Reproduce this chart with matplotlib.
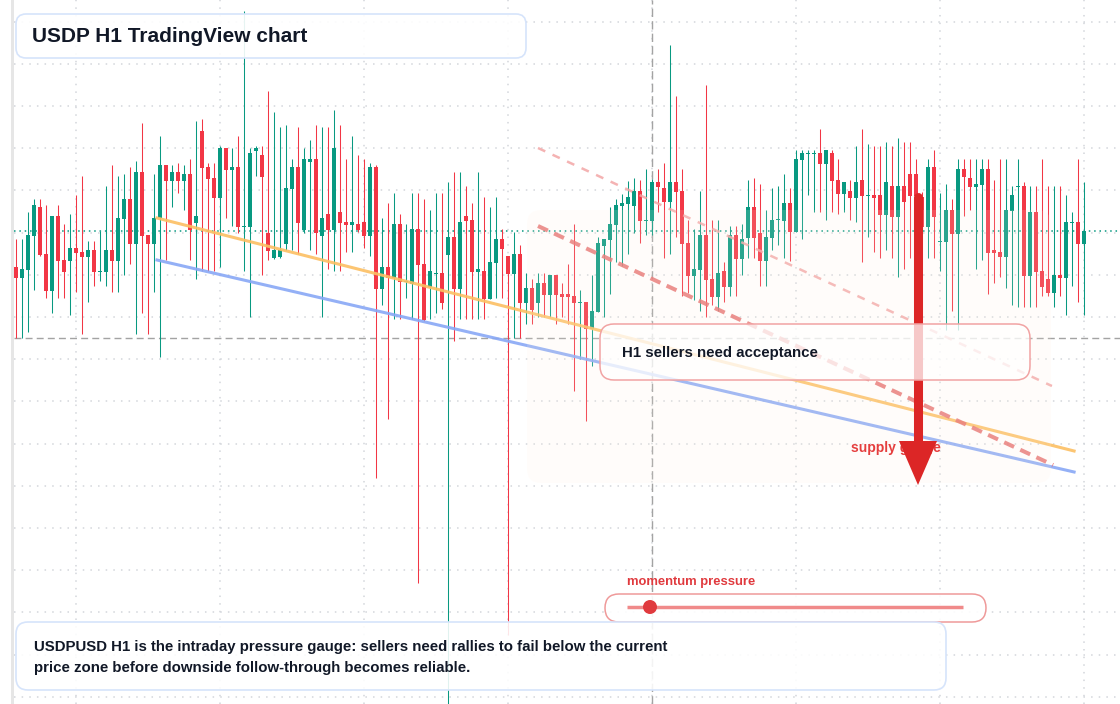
import numpy as np
import matplotlib
matplotlib.use('Agg')
import matplotlib.pyplot as plt
from matplotlib.patches import FancyBboxPatch, Polygon, Circle, Rectangle

plt.rcParams['font.family'] = ['Liberation Sans', 'DejaVu Sans']

# hourly candles, price points
opens = [437, 426.3, 434.3, 468.3, 497, 450, 413.3, 488, 444, 443.3,
         456, 452, 447.3, 454, 432.3, 432.3, 454, 443.3, 485.3, 505,
         460.3, 532, 469, 460.3, 486, 539, 523.3, 532, 523.3, 530,
         481.3, 573, 537, 526, 506.3, 556, 534, 537, 477.3, 477.3,
         553, 549, 471.3, 446, 447.3, 460.3, 515.3, 537, 474.3, 542.3,
         545, 468.3, 490, 474.3, 492, 482, 479, 480, 482, 468.3,
         537, 415.3, 437.3, 426.3, 480, 422.3, 420.3, 475.3, 440.3, 417.3,
         430.3, 431, 449.3, 467.3, 415.3, 488, 484, 432.3, 433, 405.3,
         441.3, 465, 448.3, 430.3, 450, 401.3, 416.3, 401.3, 421.3, 409.3,
         429.3, 410.3, 410.3, 408.3, 401.3, 402.3, 375.3, 392.3, 458.3, 464.3,
         479.3, 498.3, 500.3, 498.3, 513, 483.3, 483.3, 522, 516, 502.3,
         522, 513, 461, 428.3, 434.3, 469, 425.3, 407.3, 433, 417.3,
         469, 445.3, 466.3, 497, 471.3, 443.3, 466.3, 483.7, 483.3, 501,
         472.3, 544, 550.3, 550.3, 551, 540, 551, 524, 510, 513,
         506, 524, 508.3, 509, 509, 489, 518, 487, 518, 530,
         530, 507.3, 477.3, 537, 462, 462.3, 494, 470.3, 535, 526,
         517.3, 519.3, 535, 454, 452, 447.3, 493.3, 517.3, 518, 428.3,
         492, 433, 425, 411.3, 429.3, 426.3, 481.3, 482, 460.3]
highs = [465, 465, 492, 505, 505, 499, 488, 499, 480, 490,
         509, 528, 463, 463, 473, 518, 539, 528, 530, 537,
         543, 581, 469, 530, 568, 539, 539, 541, 539, 545,
         583, 585, 541, 541, 558, 556, 556, 568, 693, 556,
         558, 558, 613, 592, 577, 579, 545, 577, 556, 564,
         579, 577, 577, 594, 579, 545, 568, 549, 545, 541,
         539, 486, 501, 511, 490, 480, 511, 511, 505, 494,
         511, 511, 522, 532, 532, 518, 501, 532, 507, 497,
         507, 475.3, 448.3, 472.3, 459.3, 431.3, 425.3, 431.3, 431.3, 429.3,
         429.3, 421.3, 440.3, 480, 414.3, 402.3, 429.3, 467.3, 465.3, 497,
         505, 510, 523, 526, 524, 535, 525, 535, 541, 659,
         608, 535, 484, 475.3, 513, 619, 484, 484, 442, 478.3,
         478.3, 480, 524, 526, 520, 494, 516, 518, 530, 516,
         554, 554, 554, 554, 575, 554, 554, 545, 522, 524,
         558, 575, 560, 558, 558, 562, 558, 566, 562, 562,
         545, 512, 545, 554, 511, 520, 505, 545, 545, 545,
         545, 545, 545, 524, 545, 545, 518, 545, 522, 518,
         518, 545, 518, 518, 518, 509, 492, 545, 522]
lows = [365.7, 366.3, 372.3, 414, 448.3, 406.3, 391.3, 406.3, 406.3, 389.3,
        412, 370.3, 402.3, 418.3, 423.3, 418.3, 412.3, 412.3, 429.3, 440.3,
        370.3, 391.3, 370.3, 412.3, 347, 444, 497, 511.3, 494, 444,
        425.3, 433.3, 433.3, 433.3, 437.3, 486, 478, 471.3, 433.3, 387,
        528, 429.3, 444.3, 445, 446.3, 454.3, 454.3, 450.3, 471.3, 454.3,
        450.3, 387.3, 435.3, 433.3, 433.3, 452.3, 452.3, 472.3, 456.3, 448.3,
        226.3, 399.3, 285, 385.3, 385.3, 406.3, 385.3, 121, 383, 385.3,
        391.3, 395.3, -5, 363.3, 385.3, 385.3, 385.3, 385.3, 385.3, 405.3,
        406.3, 406.3, 69, 366.3, 366.3, 380.3, 380.3, 387.3, 387.3, 387.3,
        380.3, 387.3, 380.3, 313, 345, 283, 338, 392.3, 387.3, 410.3,
        442.3, 438.3, 450.3, 471.3, 461.3, 469.3, 469.3, 492.3, 446.3, 450.3,
        467.3, 408.3, 411.3, 404.3, 393.3, 387.3, 399.3, 393.3, 402.3, 408.3,
        408.3, 429.3, 446.3, 446.3, 418.3, 418.3, 454.3, 459.3, 446.3, 443.3,
        472.3, 465.3, 509, 492, 492, 484, 492, 490, 492, 484,
        482, 442.3, 467.3, 452.3, 446.3, 454.3, 446.3, 427.3, 435.3, 446.3,
        474, 470, 446.3, 446.3, 433.3, 374, 393.3, 374, 488.3, 494.3,
        435.3, 444.3, 410.3, 421.3, 427.3, 416.3, 399.3, 397.3, 397.3, 397.3,
        397.3, 408.3, 408.3, 397.3, 408.3, 389.3, 418.3, 402.3, 389.3]
closes = [426.3, 435, 469, 499, 449, 413.3, 488, 443.3, 432.3, 456,
          451.3, 447.3, 454, 432.3, 433, 454, 443.3, 486, 505, 460.3,
          532, 468.3, 460.3, 486, 539, 523.3, 532, 523.3, 530, 474.3,
          488, 536.3, 525.3, 506.3, 556, 534, 537, 477.3, 478, 551,
          556, 527.3, 453.3, 454, 454, 516, 537, 481.3, 545, 545,
          471.3, 486, 474.3, 556, 481.3, 479, 482, 474.3, 468.3, 537,
          415.3, 437.3, 426.3, 480, 422.3, 423, 475.3, 439.3, 384.3, 433,
          431, 401.3, 467.3, 415.3, 482, 483.3, 432.3, 435, 405.3, 442,
          465, 455.3, 430.3, 450, 401.3, 416.3, 394.3, 421.3, 409.3, 429.3,
          409.3, 407.3, 407.3, 401.3, 402.3, 375.3, 393.3, 460.7, 465.3, 480,
          499, 501, 507, 513, 483.3, 484.3, 522, 517.3, 502.3, 522,
          512.3, 460.3, 428.3, 435, 469, 424.3, 407.3, 431, 417.3, 469,
          445.3, 465.3, 497, 466.3, 443.3, 467.3, 484, 484.3, 501, 472.3,
          545, 551, 551, 551, 540, 554, 523, 510, 522, 506,
          522, 508, 509, 506, 489, 522, 487, 518, 502, 508,
          508, 477.3, 537, 487.3, 462.7, 494, 470.3, 535, 527, 517.3,
          520, 535, 451.3, 451.3, 447.3, 494, 509, 518, 428.3, 492,
          432.3, 417.3, 411.3, 429.3, 426.3, 482, 482, 460.3, 473]

# drawn trend lines: (bar index, price points)
resistance_x = [23.55, 176.4]
resistance_y = [486, 253]
support_x = [23.55, 176.4]
support_y = [444, 232]
sell_line_x = [87.05, 172.9]
sell_line_y = [478, 239]
upper_line_x = [87.05, 172.7]
upper_line_y = [556, 318]
crosshair_bar = 106
level_line = 366

GREEN = '#089981'
RED = '#f23645'
INK = '#111827'

fig = plt.figure(figsize=(11.2, 7.04), dpi=100)
fig.patch.set_facecolor('white')
ax = fig.add_axes([14 / 1120, 0, 1106 / 1120, 1])
ax.set_xlim(-0.283, 184.05)
ax.set_ylim(0, 704)
for s in ax.spines.values():
    s.set_visible(False)

# grid
ax.set_xticks(np.arange(10, 185, 24))
ax.set_yticks(np.arange(7.2, 704, 42.2))
ax.tick_params(length=0, labelleft=False, labelbottom=False)
ax.grid(True, color='#d3d6db', lw=1.1, linestyle=(0, (1, 4)))
ax.set_axisbelow(True)

# candles
o = np.array(opens)
h = np.array(highs)
l = np.array(lows)
c = np.array(closes)
idx = np.arange(len(o))
cols = np.where(c >= o, GREEN, RED)
ax.vlines(idx, l, h, colors=cols, lw=0.75, zorder=2)
ax.bar(idx, np.maximum(np.abs(c - o), 1.0), bottom=np.minimum(o, c),
       width=0.72, color=cols, linewidth=0, zorder=3)

# last price / reference lines
ax.axhline(c[-1], color=GREEN, lw=1.1, linestyle=(0, (1, 2.5)), zorder=1.5)
ax.axhline(level_line, color='#a3a3a3', lw=1, linestyle=(0, (5, 3)), zorder=1.6)
ax.axvline(crosshair_bar, color='#a3a3a3', lw=1, linestyle=(0, (6, 3)), zorder=1.6)

# trend lines
ax.plot(resistance_x, resistance_y, color='#fcbf63', lw=2.2, alpha=0.9, zorder=4)
ax.plot(support_x, support_y, color='#88a8f6', lw=2.2, alpha=0.9, zorder=4)
ax.plot(upper_line_x, upper_line_y, color='#f3a6a6', lw=1.8, alpha=0.85,
        dashes=(3.2, 3.2), zorder=4)
ax.plot(sell_line_x, sell_line_y, color='#e76f6f', lw=2.9, alpha=0.85,
        dashes=(2.7, 1.7), zorder=4)

# annotation layer in pixel units
ov = fig.add_axes([0, 0, 1, 1], zorder=5)
ov.set_xlim(0, 1120)
ov.set_ylim(704, 0)
ov.axis('off')
ov.patch.set_alpha(0)

ov.add_patch(Rectangle((10.5, 0), 3.3, 704, fc='#e6e6e6', ec='none'))

# supply zone shade
ov.add_patch(FancyBboxPatch((527, 210), 524, 273, boxstyle='round,pad=0,rounding_size=14',
                            fc='#fff0e0', ec='none', alpha=0.14, zorder=1))

ov.text(851, 448, 'supply gauge', color='#e53e3e', fontsize=10, fontweight='bold',
        va='center', ha='left', zorder=2)

# big sell arrow
ov.plot([918, 918], [197, 447], color='#dc2626', lw=6.5, solid_capstyle='round', zorder=3)
ov.add_patch(Polygon([[899, 441], [937, 441], [918, 485]], closed=True,
                     fc='#dc2626', ec='none', zorder=3))

# callout box
ov.add_patch(FancyBboxPatch((600, 324), 430, 56, boxstyle='round,pad=0,rounding_size=14',
                            fc=(1, 1, 1, 0.75), ec='#f1a3a3', lw=1.1, zorder=4))
ov.text(622, 353, 'H1 sellers need acceptance', color=INK, fontsize=10.8,
        fontweight='bold', va='center', ha='left', zorder=5)

# momentum gauge
ov.text(627, 582, 'momentum pressure', color='#e03a3e', fontsize=9.4,
        fontweight='bold', va='center', ha='left', zorder=5)
ov.add_patch(FancyBboxPatch((605, 594), 381, 28, boxstyle='round,pad=0,rounding_size=14',
                            fc=(1, 1, 1, 0.9), ec='#ef9a9a', lw=1.1, zorder=4))
ov.plot([627, 963], [607, 607], color='#f08a8a', lw=2.5, solid_capstyle='butt', zorder=5)
ov.add_patch(Circle((650, 607), 7, fc='#e03a3e', ec='none', zorder=6))

# title
ov.add_patch(FancyBboxPatch((16, 14), 510, 44, boxstyle='round,pad=0,rounding_size=10',
                            fc=(1, 1, 1, 0.9), ec='#d6e4fb', lw=1.2, zorder=4))
ov.text(32, 36, 'USDP H1 TradingView chart', color=INK, fontsize=15,
        fontweight='bold', va='center', ha='left', zorder=5)

# bottom note
ov.add_patch(FancyBboxPatch((16, 622), 930, 68, boxstyle='round,pad=0,rounding_size=12',
                            fc=(1, 1, 1, 0.88), ec='#d6e4fb', lw=1.2, zorder=4))
ov.text(34, 647, 'USDPUSD H1 is the intraday pressure gauge: sellers need rallies to fail below the current',
        color=INK, fontsize=10.8, fontweight='bold', va='center', ha='left', zorder=5)
ov.text(34, 668, 'price zone before downside follow-through becomes reliable.',
        color=INK, fontsize=10.8, fontweight='bold', va='center', ha='left', zorder=5)

fig.savefig('out.png', dpi=100)
